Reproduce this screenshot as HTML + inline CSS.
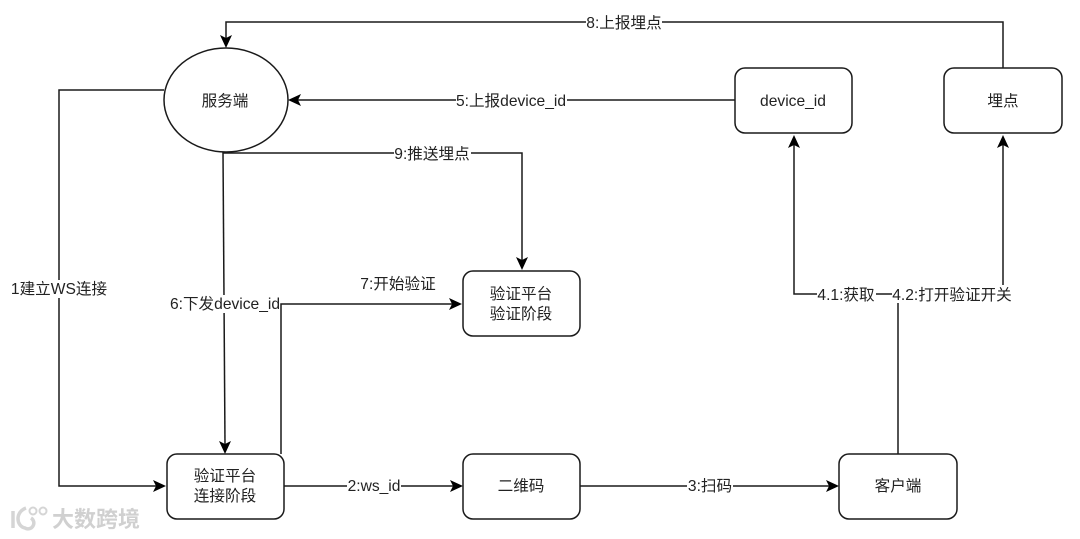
<!DOCTYPE html>
<html><head><meta charset="utf-8">
<style>
html,body{margin:0;padding:0;background:#fff;width:1080px;height:539px;overflow:hidden}
svg{display:block}
text{font-family:"Liberation Sans","Noto Sans CJK SC",sans-serif;font-size:15.6px;fill:#222;text-anchor:middle}
.l{fill:none;stroke:#1a1a1a;stroke-width:1.5}
.n{fill:#fff;stroke:#1a1a1a;stroke-width:1.5}
.a{fill:#000;stroke:none}
.b{fill:#fff;stroke:none}
</style></head><body>
<svg width="1080" height="539" viewBox="0 0 1080 539" xmlns="http://www.w3.org/2000/svg">
<!-- connectors -->
<path class="l" d="M1003 68V22H226V40"/>
<path class="l" d="M735 100H296"/>
<path class="l" d="M164 90H59V486H157"/>
<path class="l" d="M223 152L225 445"/>
<path class="l" d="M223 153H522V262"/>
<path class="l" d="M281 454V304H454"/>
<path class="l" d="M284 486H454"/>
<path class="l" d="M580 486H830"/>
<path class="l" d="M898 454V294H794V143"/>
<path class="l" d="M898 294H1003V143"/>
<!-- arrowheads -->
<path class="a" d="M226 48L220 35L226 38L232 35Z"/>
<path class="a" d="M288 100L301 94L298 100L301 106Z"/>
<path class="a" d="M166 486L153 480L156 486L153 492Z"/>
<path class="a" d="M225 454L219 441L225 444L231 441Z"/>
<path class="a" d="M522 270L516 257L522 260L528 257Z"/>
<path class="a" d="M462 304L449 298L452 304L449 310Z"/>
<path class="a" d="M463 486L450 480L453 486L450 492Z"/>
<path class="a" d="M839 486L826 480L829 486L826 492Z"/>
<path class="a" d="M794 135L788 148L794 145L800 148Z"/>
<path class="a" d="M1003 135L997 148L1003 145L1009 148Z"/>
<!-- nodes -->
<ellipse class="n" cx="226" cy="100" rx="62" ry="52"/>
<rect class="n" x="735" y="68" width="117" height="65" rx="10"/>
<rect class="n" x="944" y="68" width="118" height="65" rx="10"/>
<rect class="n" x="463" y="271" width="117" height="65" rx="10"/>
<rect class="n" x="167" y="454" width="117" height="65" rx="10"/>
<rect class="n" x="463" y="454" width="117" height="65" rx="10"/>
<rect class="n" x="839" y="454" width="118" height="65" rx="10"/>
<!-- node labels -->
<text x="225" y="106">服务端</text>
<text x="793" y="106">device_id</text>
<text x="1003" y="106">埋点</text>
<text x="521" y="299">验证平台</text>
<text x="521" y="319">验证阶段</text>
<text x="225" y="481">验证平台</text>
<text x="225" y="501">连接阶段</text>
<text x="521" y="491">二维码</text>
<text x="898" y="491">客户端</text>
<!-- edge labels -->
<rect class="b" x="586" y="14" width="76" height="17"/><text x="624" y="28">8:上报埋点</text>
<rect class="b" x="456" y="92" width="111" height="17"/><text x="511" y="106">5:上报device_id</text>
<rect class="b" x="394" y="145" width="77" height="17"/><text x="432" y="159">9:推送埋点</text>
<rect class="b" x="11" y="280" width="96" height="18"/><text x="59" y="294">1建立WS连接</text>
<rect class="b" x="170" y="295" width="110" height="18"/><text x="225" y="309">6:下发device_id</text>
<text x="398" y="289">7:开始验证</text>
<rect class="b" x="347" y="478" width="54" height="17"/><text x="374" y="491">2:ws_id</text>
<rect class="b" x="687" y="478" width="46" height="17"/><text x="710" y="491">3:扫码</text>
<rect class="b" x="817" y="285" width="59" height="18"/><text x="846" y="300">4.1:获取</text>
<rect class="b" x="892" y="285" width="120" height="18"/><text x="952" y="300">4.2:打开验证开关</text>
<!-- watermark -->
<g>
<path d="M13 511V528M26 508C15 512 16 526 25 528A5 5 0 0 0 31 518" fill="none" stroke="#d5d5d5" stroke-width="3.5"/>
<circle cx="33" cy="511" r="3.5" fill="none" stroke="#d5d5d5" stroke-width="2"/>
<circle cx="43" cy="511" r="3.5" fill="none" stroke="#d5d5d5" stroke-width="2"/>
<text x="96" y="527" style="font-size:22px;font-weight:700;fill:#d0d0d0">大数跨境</text>
</g>
</svg>
</body></html>
